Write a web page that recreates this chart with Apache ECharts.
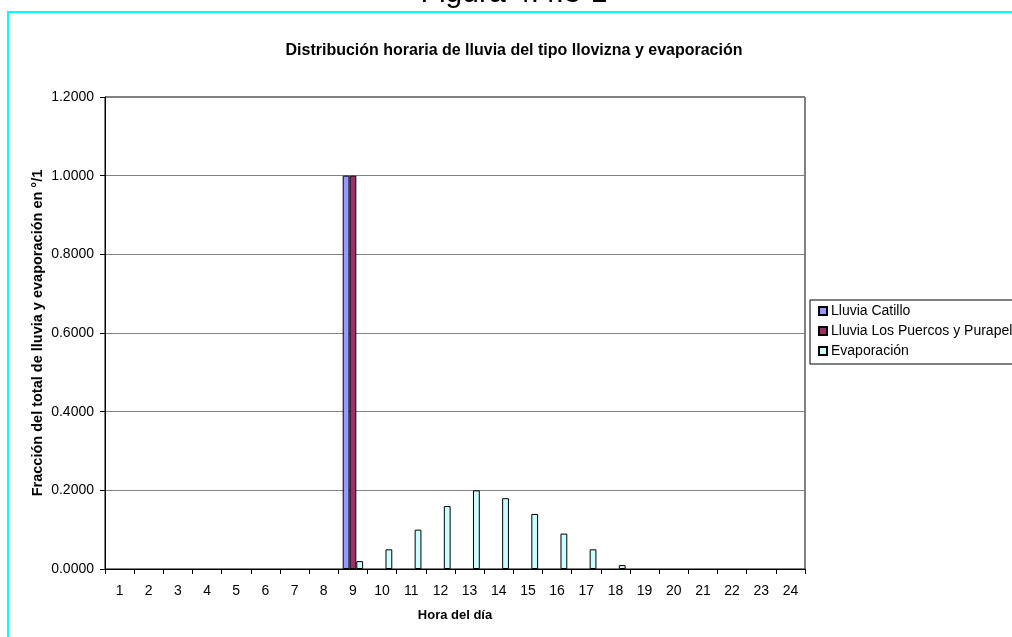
<!DOCTYPE html>
<html>
<head>
<meta charset="utf-8">
<script src="https://cdn.jsdelivr.net/npm/echarts@6/dist/echarts.min.js"></script>
<style>
  html, body { margin: 0; padding: 0; background: #fff; }
  #chart { width: 1012px; height: 637px; }
</style>
</head>
<body>
<div id="chart"></div>
<script>
// Hours of the day (category axis)
const hours = ['1','2','3','4','5','6','7','8','9','10','11','12','13','14','15','16','17','18','19','20','21','22','23','24'];

// Hourly fraction of the daily total
const lluviaCatillo = [0,0,0,0,0,0,0,0,1.0,0,0,0,0,0,0,0,0,0,0,0,0,0,0,0];
const lluviaPuercos = [0,0,0,0,0,0,0,0,1.0,0,0,0,0,0,0,0,0,0,0,0,0,0,0,0];
const evaporacion   = [0,0,0,0,0,0,0,0,0.02,0.05,0.10,0.16,0.20,0.18,0.14,0.09,0.05,0.01,0,0,0,0,0,0];

const seriesNames = ['Lluvia Catillo', 'Lluvia Los Puercos y Purapel', 'Evaporación'];
const seriesColors = ['#9999FF', '#993366', '#CCFFFF'];
const yTicks = { min: 0, max: 1.2, step: 0.2 };

const font = 'Arial, "Liberation Sans", sans-serif';
const chart = echarts.init(document.getElementById('chart'), null, { renderer: 'canvas' });

// Zero-height bars are left empty so their outlines don't thicken the axis
function bar(name, data, color) {
  return {
    name: name,
    type: 'bar',
    data: data.map(v => (v === 0 ? null : v)),
    barWidth: 6.8,
    barGap: '0%',
    itemStyle: { color: color, borderColor: '#000', borderWidth: 1 },
    emphasis: { disabled: true },
    animation: false
  };
}

chart.setOption({
  backgroundColor: '#fff',
  animation: false,
  graphic: [
    { type: 'text', x: 514, y: 9,
      style: { text: 'Figura 4.4.3-1', fill: '#000', font: '30px ' + font,
               textAlign: 'center', textVerticalAlign: 'bottom' } },
    { type: 'rect', shape: { x: 7, y: 11, width: 1010, height: 2 }, style: { fill: '#00FFFF' } },
    { type: 'rect', shape: { x: 7, y: 11, width: 2, height: 630 }, style: { fill: '#00FFFF' } }
  ],
  title: {
    text: 'Distribución horaria de lluvia del tipo llovizna y evaporación',
    left: 509, top: 38, textAlign: 'center',
    textStyle: { fontFamily: font, fontWeight: 'bold', fontSize: 16, color: '#000' }
  },
  legend: {
    orient: 'vertical',
    left: 810, top: 300,
    data: seriesNames,
    icon: 'rect',
    itemWidth: 8, itemHeight: 8, itemGap: 6,
    padding: [4, 8, 6, 8],
    borderColor: '#000', borderWidth: 1,
    textStyle: { fontFamily: font, fontSize: 14, color: '#000', lineHeight: 14, padding: [0, 0, 0, -1] },
    selectedMode: false
  },
  grid: {
    left: 105, top: 97, width: 700, height: 472,
    show: true, borderColor: '#000', borderWidth: 1, backgroundColor: 'transparent'
  },
  xAxis: {
    type: 'category',
    data: hours,
    boundaryGap: true,
    name: 'Hora del día',
    nameLocation: 'middle',
    nameGap: 40,
    nameMoveOverlap: false,
    nameTextStyle: { fontFamily: font, fontWeight: 'bold', fontSize: 13, color: '#000' },
    axisLine: { lineStyle: { color: '#000', width: 1 } },
    axisTick: { show: true, length: 5, lineStyle: { color: '#000' } },
    axisLabel: { fontFamily: font, fontSize: 14, color: '#000', margin: 15, interval: 0 },
    splitLine: { show: false }
  },
  yAxis: {
    type: 'value',
    min: yTicks.min, max: yTicks.max, interval: yTicks.step,
    name: 'Fracción del total de lluvia y evaporación en °/1',
    nameLocation: 'middle',
    nameGap: 60,
    nameMoveOverlap: false,
    nameTextStyle: { fontFamily: font, fontWeight: 'bold', fontSize: 14.5, color: '#000' },
    axisLine: { show: true, lineStyle: { color: '#000', width: 1 } },
    axisTick: { show: true, length: 5, lineStyle: { color: '#000' } },
    axisLabel: { fontFamily: font, fontSize: 14, color: '#000', margin: 11,
      formatter: v => v.toFixed(4) },
    splitLine: { show: true, lineStyle: { color: '#808080', width: 1 } }
  },
  series: [
    bar(seriesNames[0], lluviaCatillo, seriesColors[0]),
    bar(seriesNames[1], lluviaPuercos, seriesColors[1]),
    bar(seriesNames[2], evaporacion, seriesColors[2])
  ]
});
</script>
</body>
</html>
